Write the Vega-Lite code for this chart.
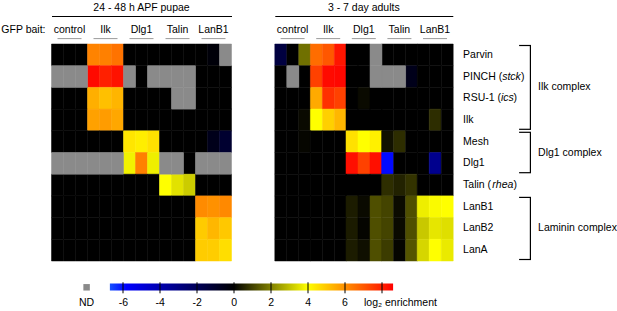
{
"$schema":"https://vega.github.io/schema/vega-lite/v6.json",
"padding":{"left":0.5,"top":3,"right":0,"bottom":0},
"config":{"view":{"stroke":null},"font":"Liberation Sans","title":{"fontSize":10.5,"fontWeight":"normal","color":"#000"},"text":{"fontSize":10.5,"color":"#000"},"axis":{"labelFontSize":10.5,"labelColor":"#000"}},
"datasets":{
"complexes":[
{"complex":"Ilk complex","first":"Parvin","last":"Ilk","mid":"RSU-1"},
{"complex":"Dlg1 complex","first":"Mesh","last":"Dlg1","mid":"Dlg1"},
{"complex":"Laminin complex","first":"LanB1","last":"LanA","mid":"LanB2"}
],
"pupae":[
{"gene":"Parvin","bait":"control","rep":1,"value":0},{"gene":"Parvin","bait":"control","rep":2,"value":0},{"gene":"Parvin","bait":"control","rep":3,"value":0},
{"gene":"Parvin","bait":"Ilk","rep":1,"value":6.25},{"gene":"Parvin","bait":"Ilk","rep":2,"value":6.3},{"gene":"Parvin","bait":"Ilk","rep":3,"value":6.55},
{"gene":"Parvin","bait":"Dlg1","rep":1,"value":0},{"gene":"Parvin","bait":"Dlg1","rep":2,"value":0},{"gene":"Parvin","bait":"Dlg1","rep":3,"value":0},
{"gene":"Parvin","bait":"Talin","rep":1,"value":0},{"gene":"Parvin","bait":"Talin","rep":2,"value":0},{"gene":"Parvin","bait":"Talin","rep":3,"value":0},
{"gene":"Parvin","bait":"LanB1","rep":1,"value":0},{"gene":"Parvin","bait":"LanB1","rep":2,"value":-0.2},{"gene":"Parvin","bait":"LanB1","rep":3,"value":null},
{"gene":"PINCH","bait":"control","rep":1,"value":null},{"gene":"PINCH","bait":"control","rep":2,"value":null},{"gene":"PINCH","bait":"control","rep":3,"value":null},
{"gene":"PINCH","bait":"Ilk","rep":1,"value":8.45},{"gene":"PINCH","bait":"Ilk","rep":2,"value":8.05},{"gene":"PINCH","bait":"Ilk","rep":3,"value":8.3},
{"gene":"PINCH","bait":"Dlg1","rep":1,"value":null},{"gene":"PINCH","bait":"Dlg1","rep":2,"value":0},{"gene":"PINCH","bait":"Dlg1","rep":3,"value":null},
{"gene":"PINCH","bait":"Talin","rep":1,"value":null},{"gene":"PINCH","bait":"Talin","rep":2,"value":null},{"gene":"PINCH","bait":"Talin","rep":3,"value":null},
{"gene":"PINCH","bait":"LanB1","rep":1,"value":0},{"gene":"PINCH","bait":"LanB1","rep":2,"value":0},{"gene":"PINCH","bait":"LanB1","rep":3,"value":0},
{"gene":"RSU-1","bait":"control","rep":1,"value":0},{"gene":"RSU-1","bait":"control","rep":2,"value":0},{"gene":"RSU-1","bait":"control","rep":3,"value":0},
{"gene":"RSU-1","bait":"Ilk","rep":1,"value":5.45},{"gene":"RSU-1","bait":"Ilk","rep":2,"value":5.15},{"gene":"RSU-1","bait":"Ilk","rep":3,"value":5.35},
{"gene":"RSU-1","bait":"Dlg1","rep":1,"value":0},{"gene":"RSU-1","bait":"Dlg1","rep":2,"value":0},{"gene":"RSU-1","bait":"Dlg1","rep":3,"value":0},
{"gene":"RSU-1","bait":"Talin","rep":1,"value":0},{"gene":"RSU-1","bait":"Talin","rep":2,"value":null},{"gene":"RSU-1","bait":"Talin","rep":3,"value":null},
{"gene":"RSU-1","bait":"LanB1","rep":1,"value":0},{"gene":"RSU-1","bait":"LanB1","rep":2,"value":0},{"gene":"RSU-1","bait":"LanB1","rep":3,"value":0},
{"gene":"Ilk","bait":"control","rep":1,"value":0},{"gene":"Ilk","bait":"control","rep":2,"value":0},{"gene":"Ilk","bait":"control","rep":3,"value":0},
{"gene":"Ilk","bait":"Ilk","rep":1,"value":5.7},{"gene":"Ilk","bait":"Ilk","rep":2,"value":5.8},{"gene":"Ilk","bait":"Ilk","rep":3,"value":5.6},
{"gene":"Ilk","bait":"Dlg1","rep":1,"value":0},{"gene":"Ilk","bait":"Dlg1","rep":2,"value":0},{"gene":"Ilk","bait":"Dlg1","rep":3,"value":0},
{"gene":"Ilk","bait":"Talin","rep":1,"value":0},{"gene":"Ilk","bait":"Talin","rep":2,"value":0},{"gene":"Ilk","bait":"Talin","rep":3,"value":0},
{"gene":"Ilk","bait":"LanB1","rep":1,"value":0},{"gene":"Ilk","bait":"LanB1","rep":2,"value":0},{"gene":"Ilk","bait":"LanB1","rep":3,"value":0},
{"gene":"Mesh","bait":"control","rep":1,"value":0},{"gene":"Mesh","bait":"control","rep":2,"value":0},{"gene":"Mesh","bait":"control","rep":3,"value":0},
{"gene":"Mesh","bait":"Ilk","rep":1,"value":0},{"gene":"Mesh","bait":"Ilk","rep":2,"value":0},{"gene":"Mesh","bait":"Ilk","rep":3,"value":0},
{"gene":"Mesh","bait":"Dlg1","rep":1,"value":4.45},{"gene":"Mesh","bait":"Dlg1","rep":2,"value":4.3},{"gene":"Mesh","bait":"Dlg1","rep":3,"value":4.55},
{"gene":"Mesh","bait":"Talin","rep":1,"value":0},{"gene":"Mesh","bait":"Talin","rep":2,"value":0},{"gene":"Mesh","bait":"Talin","rep":3,"value":0},
{"gene":"Mesh","bait":"LanB1","rep":1,"value":0},{"gene":"Mesh","bait":"LanB1","rep":2,"value":-0.6},{"gene":"Mesh","bait":"LanB1","rep":3,"value":-1.1},
{"gene":"Dlg1","bait":"control","rep":1,"value":null},{"gene":"Dlg1","bait":"control","rep":2,"value":null},{"gene":"Dlg1","bait":"control","rep":3,"value":null},
{"gene":"Dlg1","bait":"Ilk","rep":1,"value":null},{"gene":"Dlg1","bait":"Ilk","rep":2,"value":null},{"gene":"Dlg1","bait":"Ilk","rep":3,"value":null},
{"gene":"Dlg1","bait":"Dlg1","rep":1,"value":3.8},{"gene":"Dlg1","bait":"Dlg1","rep":2,"value":6.3},{"gene":"Dlg1","bait":"Dlg1","rep":3,"value":3.75},
{"gene":"Dlg1","bait":"Talin","rep":1,"value":null},{"gene":"Dlg1","bait":"Talin","rep":2,"value":null},{"gene":"Dlg1","bait":"Talin","rep":3,"value":0},
{"gene":"Dlg1","bait":"LanB1","rep":1,"value":null},{"gene":"Dlg1","bait":"LanB1","rep":2,"value":null},{"gene":"Dlg1","bait":"LanB1","rep":3,"value":null},
{"gene":"Talin","bait":"control","rep":1,"value":0},{"gene":"Talin","bait":"control","rep":2,"value":0},{"gene":"Talin","bait":"control","rep":3,"value":0},
{"gene":"Talin","bait":"Ilk","rep":1,"value":0},{"gene":"Talin","bait":"Ilk","rep":2,"value":0},{"gene":"Talin","bait":"Ilk","rep":3,"value":0},
{"gene":"Talin","bait":"Dlg1","rep":1,"value":0},{"gene":"Talin","bait":"Dlg1","rep":2,"value":0},{"gene":"Talin","bait":"Dlg1","rep":3,"value":0},
{"gene":"Talin","bait":"Talin","rep":1,"value":4.0},{"gene":"Talin","bait":"Talin","rep":2,"value":3.55},{"gene":"Talin","bait":"Talin","rep":3,"value":3.2},
{"gene":"Talin","bait":"LanB1","rep":1,"value":0},{"gene":"Talin","bait":"LanB1","rep":2,"value":0},{"gene":"Talin","bait":"LanB1","rep":3,"value":0},
{"gene":"LanB1","bait":"control","rep":1,"value":0},{"gene":"LanB1","bait":"control","rep":2,"value":0},{"gene":"LanB1","bait":"control","rep":3,"value":0},
{"gene":"LanB1","bait":"Ilk","rep":1,"value":0},{"gene":"LanB1","bait":"Ilk","rep":2,"value":0},{"gene":"LanB1","bait":"Ilk","rep":3,"value":0},
{"gene":"LanB1","bait":"Dlg1","rep":1,"value":0},{"gene":"LanB1","bait":"Dlg1","rep":2,"value":0},{"gene":"LanB1","bait":"Dlg1","rep":3,"value":0},
{"gene":"LanB1","bait":"Talin","rep":1,"value":0},{"gene":"LanB1","bait":"Talin","rep":2,"value":0},{"gene":"LanB1","bait":"Talin","rep":3,"value":0},
{"gene":"LanB1","bait":"LanB1","rep":1,"value":6.1},{"gene":"LanB1","bait":"LanB1","rep":2,"value":6.0},{"gene":"LanB1","bait":"LanB1","rep":3,"value":6.15},
{"gene":"LanB2","bait":"control","rep":1,"value":0},{"gene":"LanB2","bait":"control","rep":2,"value":0},{"gene":"LanB2","bait":"control","rep":3,"value":0},
{"gene":"LanB2","bait":"Ilk","rep":1,"value":0},{"gene":"LanB2","bait":"Ilk","rep":2,"value":0},{"gene":"LanB2","bait":"Ilk","rep":3,"value":0},
{"gene":"LanB2","bait":"Dlg1","rep":1,"value":0},{"gene":"LanB2","bait":"Dlg1","rep":2,"value":0},{"gene":"LanB2","bait":"Dlg1","rep":3,"value":0},
{"gene":"LanB2","bait":"Talin","rep":1,"value":0},{"gene":"LanB2","bait":"Talin","rep":2,"value":0},{"gene":"LanB2","bait":"Talin","rep":3,"value":0},
{"gene":"LanB2","bait":"LanB1","rep":1,"value":4.95},{"gene":"LanB2","bait":"LanB1","rep":2,"value":5.3},{"gene":"LanB2","bait":"LanB1","rep":3,"value":5.0},
{"gene":"LanA","bait":"control","rep":1,"value":0},{"gene":"LanA","bait":"control","rep":2,"value":0},{"gene":"LanA","bait":"control","rep":3,"value":0},
{"gene":"LanA","bait":"Ilk","rep":1,"value":0},{"gene":"LanA","bait":"Ilk","rep":2,"value":0},{"gene":"LanA","bait":"Ilk","rep":3,"value":0},
{"gene":"LanA","bait":"Dlg1","rep":1,"value":0},{"gene":"LanA","bait":"Dlg1","rep":2,"value":0},{"gene":"LanA","bait":"Dlg1","rep":3,"value":0},
{"gene":"LanA","bait":"Talin","rep":1,"value":0},{"gene":"LanA","bait":"Talin","rep":2,"value":0},{"gene":"LanA","bait":"Talin","rep":3,"value":0},
{"gene":"LanA","bait":"LanB1","rep":1,"value":4.93},{"gene":"LanA","bait":"LanB1","rep":2,"value":4.9},{"gene":"LanA","bait":"LanB1","rep":3,"value":4.6}
],
"adults":[
{"gene":"Parvin","bait":"control","rep":1,"value":-1.45},{"gene":"Parvin","bait":"control","rep":2,"value":0},{"gene":"Parvin","bait":"control","rep":3,"value":1.75},
{"gene":"Parvin","bait":"Ilk","rep":1,"value":6.65},{"gene":"Parvin","bait":"Ilk","rep":2,"value":7.05},{"gene":"Parvin","bait":"Ilk","rep":3,"value":8.25},
{"gene":"Parvin","bait":"Dlg1","rep":1,"value":0},{"gene":"Parvin","bait":"Dlg1","rep":2,"value":0},{"gene":"Parvin","bait":"Dlg1","rep":3,"value":null},
{"gene":"Parvin","bait":"Talin","rep":1,"value":0},{"gene":"Parvin","bait":"Talin","rep":2,"value":0},{"gene":"Parvin","bait":"Talin","rep":3,"value":0},
{"gene":"Parvin","bait":"LanB1","rep":1,"value":0},{"gene":"Parvin","bait":"LanB1","rep":2,"value":0},{"gene":"Parvin","bait":"LanB1","rep":3,"value":0},
{"gene":"PINCH","bait":"control","rep":1,"value":0},{"gene":"PINCH","bait":"control","rep":2,"value":null},{"gene":"PINCH","bait":"control","rep":3,"value":0},
{"gene":"PINCH","bait":"Ilk","rep":1,"value":7.45},{"gene":"PINCH","bait":"Ilk","rep":2,"value":8.45},{"gene":"PINCH","bait":"Ilk","rep":3,"value":8.5},
{"gene":"PINCH","bait":"Dlg1","rep":1,"value":0},{"gene":"PINCH","bait":"Dlg1","rep":2,"value":0},{"gene":"PINCH","bait":"Dlg1","rep":3,"value":null},
{"gene":"PINCH","bait":"Talin","rep":1,"value":null},{"gene":"PINCH","bait":"Talin","rep":2,"value":null},{"gene":"PINCH","bait":"Talin","rep":3,"value":-0.6},
{"gene":"PINCH","bait":"LanB1","rep":1,"value":0},{"gene":"PINCH","bait":"LanB1","rep":2,"value":0},{"gene":"PINCH","bait":"LanB1","rep":3,"value":0},
{"gene":"RSU-1","bait":"control","rep":1,"value":0},{"gene":"RSU-1","bait":"control","rep":2,"value":0},{"gene":"RSU-1","bait":"control","rep":3,"value":0},
{"gene":"RSU-1","bait":"Ilk","rep":1,"value":5.55},{"gene":"RSU-1","bait":"Ilk","rep":2,"value":7.75},{"gene":"RSU-1","bait":"Ilk","rep":3,"value":7.45},
{"gene":"RSU-1","bait":"Dlg1","rep":1,"value":0},{"gene":"RSU-1","bait":"Dlg1","rep":2,"value":0.15},{"gene":"RSU-1","bait":"Dlg1","rep":3,"value":0},
{"gene":"RSU-1","bait":"Talin","rep":1,"value":0},{"gene":"RSU-1","bait":"Talin","rep":2,"value":0},{"gene":"RSU-1","bait":"Talin","rep":3,"value":0},
{"gene":"RSU-1","bait":"LanB1","rep":1,"value":0},{"gene":"RSU-1","bait":"LanB1","rep":2,"value":0},{"gene":"RSU-1","bait":"LanB1","rep":3,"value":0},
{"gene":"Ilk","bait":"control","rep":1,"value":0},{"gene":"Ilk","bait":"control","rep":2,"value":0},{"gene":"Ilk","bait":"control","rep":3,"value":0.15},
{"gene":"Ilk","bait":"Ilk","rep":1,"value":4.0},{"gene":"Ilk","bait":"Ilk","rep":2,"value":4.85},{"gene":"Ilk","bait":"Ilk","rep":3,"value":5.3},
{"gene":"Ilk","bait":"Dlg1","rep":1,"value":0},{"gene":"Ilk","bait":"Dlg1","rep":2,"value":0},{"gene":"Ilk","bait":"Dlg1","rep":3,"value":0},
{"gene":"Ilk","bait":"Talin","rep":1,"value":0},{"gene":"Ilk","bait":"Talin","rep":2,"value":0},{"gene":"Ilk","bait":"Talin","rep":3,"value":0},
{"gene":"Ilk","bait":"LanB1","rep":1,"value":0},{"gene":"Ilk","bait":"LanB1","rep":2,"value":0.7},{"gene":"Ilk","bait":"LanB1","rep":3,"value":0},
{"gene":"Mesh","bait":"control","rep":1,"value":0},{"gene":"Mesh","bait":"control","rep":2,"value":0},{"gene":"Mesh","bait":"control","rep":3,"value":0.1},
{"gene":"Mesh","bait":"Ilk","rep":1,"value":0},{"gene":"Mesh","bait":"Ilk","rep":2,"value":0},{"gene":"Mesh","bait":"Ilk","rep":3,"value":0},
{"gene":"Mesh","bait":"Dlg1","rep":1,"value":4.55},{"gene":"Mesh","bait":"Dlg1","rep":2,"value":4.0},{"gene":"Mesh","bait":"Dlg1","rep":3,"value":4.27},
{"gene":"Mesh","bait":"Talin","rep":1,"value":0.27},{"gene":"Mesh","bait":"Talin","rep":2,"value":0.7},{"gene":"Mesh","bait":"Talin","rep":3,"value":0},
{"gene":"Mesh","bait":"LanB1","rep":1,"value":0},{"gene":"Mesh","bait":"LanB1","rep":2,"value":0},{"gene":"Mesh","bait":"LanB1","rep":3,"value":0},
{"gene":"Dlg1","bait":"control","rep":1,"value":0},{"gene":"Dlg1","bait":"control","rep":2,"value":0},{"gene":"Dlg1","bait":"control","rep":3,"value":0},
{"gene":"Dlg1","bait":"Ilk","rep":1,"value":0},{"gene":"Dlg1","bait":"Ilk","rep":2,"value":0},{"gene":"Dlg1","bait":"Ilk","rep":3,"value":0},
{"gene":"Dlg1","bait":"Dlg1","rep":1,"value":8.35},{"gene":"Dlg1","bait":"Dlg1","rep":2,"value":7.45},{"gene":"Dlg1","bait":"Dlg1","rep":3,"value":8.35},
{"gene":"Dlg1","bait":"Talin","rep":1,"value":-5.9},{"gene":"Dlg1","bait":"Talin","rep":2,"value":0},{"gene":"Dlg1","bait":"Talin","rep":3,"value":0},
{"gene":"Dlg1","bait":"LanB1","rep":1,"value":0},{"gene":"Dlg1","bait":"LanB1","rep":2,"value":-3.2},{"gene":"Dlg1","bait":"LanB1","rep":3,"value":0},
{"gene":"Talin","bait":"control","rep":1,"value":0},{"gene":"Talin","bait":"control","rep":2,"value":0},{"gene":"Talin","bait":"control","rep":3,"value":0},
{"gene":"Talin","bait":"Ilk","rep":1,"value":0},{"gene":"Talin","bait":"Ilk","rep":2,"value":0},{"gene":"Talin","bait":"Ilk","rep":3,"value":0},
{"gene":"Talin","bait":"Dlg1","rep":1,"value":0},{"gene":"Talin","bait":"Dlg1","rep":2,"value":0},{"gene":"Talin","bait":"Dlg1","rep":3,"value":0},
{"gene":"Talin","bait":"Talin","rep":1,"value":0.72},{"gene":"Talin","bait":"Talin","rep":2,"value":0.53},{"gene":"Talin","bait":"Talin","rep":3,"value":0.8},
{"gene":"Talin","bait":"LanB1","rep":1,"value":0},{"gene":"Talin","bait":"LanB1","rep":2,"value":0},{"gene":"Talin","bait":"LanB1","rep":3,"value":0},
{"gene":"LanB1","bait":"control","rep":1,"value":0},{"gene":"LanB1","bait":"control","rep":2,"value":0},{"gene":"LanB1","bait":"control","rep":3,"value":0},
{"gene":"LanB1","bait":"Ilk","rep":1,"value":0},{"gene":"LanB1","bait":"Ilk","rep":2,"value":0},{"gene":"LanB1","bait":"Ilk","rep":3,"value":0},
{"gene":"LanB1","bait":"Dlg1","rep":1,"value":0.44},{"gene":"LanB1","bait":"Dlg1","rep":2,"value":0.16},{"gene":"LanB1","bait":"Dlg1","rep":3,"value":1.24},
{"gene":"LanB1","bait":"Talin","rep":1,"value":1.07},{"gene":"LanB1","bait":"Talin","rep":2,"value":0.17},{"gene":"LanB1","bait":"Talin","rep":3,"value":1.24},
{"gene":"LanB1","bait":"LanB1","rep":1,"value":3.73},{"gene":"LanB1","bait":"LanB1","rep":2,"value":3.92},{"gene":"LanB1","bait":"LanB1","rep":3,"value":4.0},
{"gene":"LanB2","bait":"control","rep":1,"value":0},{"gene":"LanB2","bait":"control","rep":2,"value":0},{"gene":"LanB2","bait":"control","rep":3,"value":0},
{"gene":"LanB2","bait":"Ilk","rep":1,"value":0},{"gene":"LanB2","bait":"Ilk","rep":2,"value":0},{"gene":"LanB2","bait":"Ilk","rep":3,"value":0},
{"gene":"LanB2","bait":"Dlg1","rep":1,"value":0.42},{"gene":"LanB2","bait":"Dlg1","rep":2,"value":0.08},{"gene":"LanB2","bait":"Dlg1","rep":3,"value":1.24},
{"gene":"LanB2","bait":"Talin","rep":1,"value":1.07},{"gene":"LanB2","bait":"Talin","rep":2,"value":0.16},{"gene":"LanB2","bait":"Talin","rep":3,"value":1.24},
{"gene":"LanB2","bait":"LanB1","rep":1,"value":3.14},{"gene":"LanB2","bait":"LanB1","rep":2,"value":3.6},{"gene":"LanB2","bait":"LanB1","rep":3,"value":3.5},
{"gene":"LanA","bait":"control","rep":1,"value":0},{"gene":"LanA","bait":"control","rep":2,"value":0},{"gene":"LanA","bait":"control","rep":3,"value":0},
{"gene":"LanA","bait":"Ilk","rep":1,"value":0},{"gene":"LanA","bait":"Ilk","rep":2,"value":0},{"gene":"LanA","bait":"Ilk","rep":3,"value":0},
{"gene":"LanA","bait":"Dlg1","rep":1,"value":0.44},{"gene":"LanA","bait":"Dlg1","rep":2,"value":0.24},{"gene":"LanA","bait":"Dlg1","rep":3,"value":1.24},
{"gene":"LanA","bait":"Talin","rep":1,"value":0.94},{"gene":"LanA","bait":"Talin","rep":2,"value":0.08},{"gene":"LanA","bait":"Talin","rep":3,"value":1.33},
{"gene":"LanA","bait":"LanB1","rep":1,"value":3.36},{"gene":"LanA","bait":"LanB1","rep":2,"value":4.0},{"gene":"LanA","bait":"LanB1","rep":3,"value":3.67}
]
},
"spacing":18.8,
"vconcat":[
{"spacing":41.3,"hconcat":[
 {"bounds":"flush","spacing":0,"vconcat":[
  {"width":180,"height":27.6,
   "data":{"name":"pupae"},
   "transform":[{"filter":"datum.gene === 'Parvin' && datum.rep === 1"}],
   "layer":[
    {"mark":{"type":"text","baseline":"alphabetic"},
     "encoding":{
      "x":{"field":"bait","type":"nominal","scale":{"domain":["control","Ilk","Dlg1","Talin","LanB1"],"paddingInner":0,"paddingOuter":0},"axis":{"orient":"top","domain":true,"domainColor":"#000","domainWidth":1,"labels":false,"ticks":false,"grid":false,"title":null}},
      "y":{"datum":0.384,"type":"quantitative","scale":{"domain":[0,1]},"axis":null},
      "text":{"field":"bait"}}},
    {"mark":{"type":"tick","orient":"horizontal","size":24,"thickness":1,"color":"#9a9a9a","opacity":1},
     "encoding":{
      "x":{"field":"bait","type":"nominal","scale":{"domain":["control","Ilk","Dlg1","Talin","LanB1"],"paddingInner":0,"paddingOuter":0},"axis":{"orient":"top","domain":true,"domainColor":"#000","domainWidth":1,"labels":false,"ticks":false,"grid":false,"title":null}},
      "y":{"datum":0.181,"type":"quantitative","scale":{"domain":[0,1]},"axis":null}}},
    {"data":{"values":[{"label":"GFP bait:"}]},
     "mark":{"type":"text","align":"right","baseline":"alphabetic","dx":-6},
     "encoding":{
      "x":{"value":0},
      "y":{"datum":0.384,"type":"quantitative","scale":{"domain":[0,1]},"axis":null},
      "text":{"field":"label"}}},
    {"data":{"values":[{"label":"24 - 48 h APF pupae"}]},
     "mark":{"type":"text","align":"center","baseline":"alphabetic"},
     "encoding":{
      "y":{"datum":1.1703,"type":"quantitative","scale":{"domain":[0,1]},"axis":null},
      "text":{"field":"label"}}}
   ]},
  {"width":180,"height":217,
   "data":{"name":"pupae"},
   "layer":[
    {"transform":[{"filter":"datum.value !== null"}],
     "mark":{"type":"rect","strokeWidth":0.5},
     "encoding":{
      "x":{"field":"bait","type":"nominal","scale":{"domain":["control","Ilk","Dlg1","Talin","LanB1"],"paddingInner":0,"paddingOuter":0},"axis":null},
      "xOffset":{"field":"rep","type":"ordinal","scale":{"paddingInner":0,"paddingOuter":0}},
      "y":{"field":"gene","type":"nominal","scale":{"type":"band","domain":["Parvin","PINCH","RSU-1","Ilk","Mesh","Dlg1","Talin","LanB1","LanB2","LanA"],"paddingInner":0,"paddingOuter":0},"axis":null},
      "color":{"field":"value","type":"quantitative","scale":{"domain":[-6.7,-5.8,0,4,8.63],"range":["#1550ff","#0000ff","#000000","#ffff00","#ff0000"],"interpolate":"rgb"},"legend":null},
      "stroke":{"field":"value","type":"quantitative","scale":{"domain":[-6.7,-5.8,0,4,8.63],"range":["#1550ff","#0000ff","#000000","#ffff00","#ff0000"],"interpolate":"rgb"},"legend":null}}},
    {"transform":[{"filter":"datum.value === null"}],
     "mark":{"type":"rect","fill":"#8a8a8a","stroke":"#8a8a8a","strokeWidth":0.5},
     "encoding":{
      "x":{"field":"bait","type":"nominal","scale":{"domain":["control","Ilk","Dlg1","Talin","LanB1"],"paddingInner":0,"paddingOuter":0},"axis":null},
      "xOffset":{"field":"rep","type":"ordinal","scale":{"paddingInner":0,"paddingOuter":0}},
      "y":{"field":"gene","type":"nominal","scale":{"type":"band","domain":["Parvin","PINCH","RSU-1","Ilk","Mesh","Dlg1","Talin","LanB1","LanB2","LanA"],"paddingInner":0,"paddingOuter":0},"axis":null}}}
   ]}
 ]},
 {"bounds":"flush","spacing":0,"vconcat":[
  {"width":178,"height":27.6,
   "data":{"name":"adults"},
   "transform":[{"filter":"datum.gene === 'Parvin' && datum.rep === 1"}],
   "layer":[
    {"mark":{"type":"text","baseline":"alphabetic"},
     "encoding":{
      "x":{"field":"bait","type":"nominal","scale":{"domain":["control","Ilk","Dlg1","Talin","LanB1"],"paddingInner":0,"paddingOuter":0},"axis":{"orient":"top","domain":true,"domainColor":"#000","domainWidth":1,"labels":false,"ticks":false,"grid":false,"title":null}},
      "y":{"datum":0.384,"type":"quantitative","scale":{"domain":[0,1]},"axis":null},
      "text":{"field":"bait"}}},
    {"mark":{"type":"tick","orient":"horizontal","size":24,"thickness":1,"color":"#9a9a9a","opacity":1},
     "encoding":{
      "x":{"field":"bait","type":"nominal","scale":{"domain":["control","Ilk","Dlg1","Talin","LanB1"],"paddingInner":0,"paddingOuter":0},"axis":{"orient":"top","domain":true,"domainColor":"#000","domainWidth":1,"labels":false,"ticks":false,"grid":false,"title":null}},
      "y":{"datum":0.181,"type":"quantitative","scale":{"domain":[0,1]},"axis":null}}},
    {"data":{"values":[{"label":"3 - 7 day adults"}]},
     "mark":{"type":"text","align":"center","baseline":"alphabetic"},
     "encoding":{
      "y":{"datum":1.1703,"type":"quantitative","scale":{"domain":[0,1]},"axis":null},
      "text":{"field":"label"}}}
   ]},
  {"width":178,"height":217,
   "data":{"name":"adults"},
   "layer":[
    {"transform":[{"filter":"datum.value !== null"}],
     "mark":{"type":"rect","strokeWidth":0.5},
     "encoding":{
      "x":{"field":"bait","type":"nominal","scale":{"domain":["control","Ilk","Dlg1","Talin","LanB1"],"paddingInner":0,"paddingOuter":0},"axis":null},
      "xOffset":{"field":"rep","type":"ordinal","scale":{"paddingInner":0,"paddingOuter":0}},
      "y":{"field":"gene","type":"nominal","scale":{"type":"band","domain":["Parvin","PINCH","RSU-1","Ilk","Mesh","Dlg1","Talin","LanB1","LanB2","LanA"],"paddingInner":0,"paddingOuter":0},"axis":null},
      "color":{"field":"value","type":"quantitative","scale":{"domain":[-6.7,-5.8,0,4,8.63],"range":["#1550ff","#0000ff","#000000","#ffff00","#ff0000"],"interpolate":"rgb"},"legend":null},
      "stroke":{"field":"value","type":"quantitative","scale":{"domain":[-6.7,-5.8,0,4,8.63],"range":["#1550ff","#0000ff","#000000","#ffff00","#ff0000"],"interpolate":"rgb"},"legend":null}}},
    {"transform":[{"filter":"datum.value === null"}],
     "mark":{"type":"rect","fill":"#8a8a8a","stroke":"#8a8a8a","strokeWidth":0.5},
     "encoding":{
      "x":{"field":"bait","type":"nominal","scale":{"domain":["control","Ilk","Dlg1","Talin","LanB1"],"paddingInner":0,"paddingOuter":0},"axis":null},
      "xOffset":{"field":"rep","type":"ordinal","scale":{"paddingInner":0,"paddingOuter":0}},
      "y":{"field":"gene","type":"nominal","scale":{"type":"band","domain":["Parvin","PINCH","RSU-1","Ilk","Mesh","Dlg1","Talin","LanB1","LanB2","LanA"],"paddingInner":0,"paddingOuter":0},"axis":null}}},
    {"transform":[{"filter":"datum.bait === 'control' && datum.rep === 1"}],
     "mark":{"type":"text","align":"left","baseline":"middle","dx":10.3},
     "encoding":{
      "x":{"value":"width"},
      "y":{"field":"gene","type":"nominal","scale":{"type":"band","domain":["Parvin","PINCH","RSU-1","Ilk","Mesh","Dlg1","Talin","LanB1","LanB2","LanA"],"paddingInner":0,"paddingOuter":0},"axis":null},
      "text":{"condition":[{"test":"datum.gene === 'PINCH'","value":"PINCH ("},{"test":"datum.gene === 'RSU-1'","value":"RSU-1 ("},{"test":"datum.gene === 'Talin'","value":"Talin ("}],"field":"gene"}}},
    {"transform":[{"filter":"datum.bait === 'control' && datum.rep === 1 && datum.gene === 'PINCH'"}],
     "mark":{"type":"text","align":"left","baseline":"middle","dx":49.4,"fontStyle":"italic"},
     "encoding":{"x":{"value":"width"},
      "y":{"field":"gene","type":"nominal","scale":{"type":"band","domain":["Parvin","PINCH","RSU-1","Ilk","Mesh","Dlg1","Talin","LanB1","LanB2","LanA"],"paddingInner":0,"paddingOuter":0},"axis":null},
      "text":{"value":"stck"}}},
    {"transform":[{"filter":"datum.bait === 'control' && datum.rep === 1 && datum.gene === 'RSU-1'"}],
     "mark":{"type":"text","align":"left","baseline":"middle","dx":48.2,"fontStyle":"italic"},
     "encoding":{"x":{"value":"width"},
      "y":{"field":"gene","type":"nominal","scale":{"type":"band","domain":["Parvin","PINCH","RSU-1","Ilk","Mesh","Dlg1","Talin","LanB1","LanB2","LanA"],"paddingInner":0,"paddingOuter":0},"axis":null},
      "text":{"value":"ics"}}},
    {"transform":[{"filter":"datum.bait === 'control' && datum.rep === 1 && datum.gene === 'Talin'"}],
     "mark":{"type":"text","align":"left","baseline":"middle","dx":39.5,"fontStyle":"italic"},
     "encoding":{"x":{"value":"width"},
      "y":{"field":"gene","type":"nominal","scale":{"type":"band","domain":["Parvin","PINCH","RSU-1","Ilk","Mesh","Dlg1","Talin","LanB1","LanB2","LanA"],"paddingInner":0,"paddingOuter":0},"axis":null},
      "text":{"value":"rhea"}}},
    {"transform":[{"filter":"datum.bait === 'control' && datum.rep === 1 && datum.gene === 'PINCH'"}],
     "mark":{"type":"text","align":"left","baseline":"middle","dx":68.1},
     "encoding":{"x":{"value":"width"},
      "y":{"field":"gene","type":"nominal","scale":{"type":"band","domain":["Parvin","PINCH","RSU-1","Ilk","Mesh","Dlg1","Talin","LanB1","LanB2","LanA"],"paddingInner":0,"paddingOuter":0},"axis":null},
      "text":{"value":")"}}},
    {"transform":[{"filter":"datum.bait === 'control' && datum.rep === 1 && (datum.gene === 'RSU-1' || datum.gene === 'Talin')"}],
     "mark":{"type":"text","align":"left","baseline":"middle","dx":60.8},
     "encoding":{"x":{"value":"width"},
      "y":{"field":"gene","type":"nominal","scale":{"type":"band","domain":["Parvin","PINCH","RSU-1","Ilk","Mesh","Dlg1","Talin","LanB1","LanB2","LanA"],"paddingInner":0,"paddingOuter":0},"axis":null},
      "text":{"value":")"}}},
    {"data":{"name":"complexes"},
     "mark":{"type":"rule","color":"#000","strokeWidth":1.2,"xOffset":77.6,"yOffset":1.5,"y2Offset":-1.5},
     "encoding":{"x":{"value":"width"},
      "y":{"field":"first","type":"nominal","bandPosition":0,"scale":{"type":"band","domain":["Parvin","PINCH","RSU-1","Ilk","Mesh","Dlg1","Talin","LanB1","LanB2","LanA"],"paddingInner":0,"paddingOuter":0},"axis":null},
      "y2":{"field":"last","bandPosition":1}}},
    {"data":{"name":"complexes"},
     "mark":{"type":"rule","color":"#000","strokeWidth":1.2,"xOffset":66.3,"x2Offset":78.2,"yOffset":1.5},
     "encoding":{"x":{"value":"width"},"x2":{"value":"width"},
      "y":{"field":"first","type":"nominal","bandPosition":0,"scale":{"type":"band","domain":["Parvin","PINCH","RSU-1","Ilk","Mesh","Dlg1","Talin","LanB1","LanB2","LanA"],"paddingInner":0,"paddingOuter":0},"axis":null}}},
    {"data":{"name":"complexes"},
     "mark":{"type":"rule","color":"#000","strokeWidth":1.2,"xOffset":66.3,"x2Offset":78.2,"yOffset":-1.5},
     "encoding":{"x":{"value":"width"},"x2":{"value":"width"},
      "y":{"field":"last","type":"nominal","bandPosition":1,"scale":{"type":"band","domain":["Parvin","PINCH","RSU-1","Ilk","Mesh","Dlg1","Talin","LanB1","LanB2","LanA"],"paddingInner":0,"paddingOuter":0},"axis":null}}},
    {"data":{"name":"complexes"},
     "transform":[{"filter":"datum.complex !== 'Laminin complex'"}],
     "mark":{"type":"text","align":"left","baseline":"middle","dx":85.3},
     "encoding":{"x":{"value":"width"},
      "y":{"field":"mid","type":"nominal","bandPosition":0,"scale":{"type":"band","domain":["Parvin","PINCH","RSU-1","Ilk","Mesh","Dlg1","Talin","LanB1","LanB2","LanA"],"paddingInner":0,"paddingOuter":0},"axis":null},
      "text":{"field":"complex"}}},
    {"data":{"name":"complexes"},
     "transform":[{"filter":"datum.complex === 'Laminin complex'"}],
     "mark":{"type":"text","align":"left","baseline":"middle","dx":85.3},
     "encoding":{"x":{"value":"width"},
      "y":{"field":"mid","type":"nominal","bandPosition":0.5,"scale":{"type":"band","domain":["Parvin","PINCH","RSU-1","Ilk","Mesh","Dlg1","Talin","LanB1","LanB2","LanA"],"paddingInner":0,"paddingOuter":0},"axis":null},
      "text":{"field":"complex"}}}
   ]}
 ]}
]},
{"width":341.6,"height":11,
 "data":{"values":[{"label":"ND"}]},
 "layer":[
  {"mark":{"type":"rect","fill":{"gradient":"linear","x1":0,"x2":1,"y1":0,"y2":0,"stops":[{"offset":0,"color":"#1550ff"},{"offset":0.0587,"color":"#0000ff"},{"offset":0.437,"color":"#000000"},{"offset":0.698,"color":"#ffff00"},{"offset":1,"color":"#ff0000"}]}},
   "encoding":{
    "x":{"datum":-6.7,"type":"quantitative","scale":{"domain":[-9.86,8.63],"nice":false,"zero":false},
     "axis":{"orient":"bottom","offset":-11,"values":[-6,-4,-2,0,2,4,6,8],"domain":false,"grid":false,"ticks":true,"tickSize":11,"tickColor":"#000","tickWidth":1,"labelExpr":"datum.value === 8 ? 'log₂ enrichment' : '' + datum.value","labelAlign":{"condition":{"test":"datum.value === 8","value":"left"},"value":"center"},"labelOffset":{"condition":{"test":"datum.value === 8","value":-18},"value":0},"labelBaseline":"alphabetic","labelPadding":12.8,"labelFlush":false,"labelOverlap":false,"labelBound":false,"title":null,"zindex":1}},
    "x2":{"datum":8.63},
    "y":{"datum":0.836,"type":"quantitative","scale":{"domain":[0,1]},"axis":null},
    "y2":{"datum":0.2}}},
  {"mark":{"type":"point","shape":"square","filled":true,"size":42,"color":"#8a8a8a","opacity":1},
   "encoding":{
    "x":{"datum":-7.96,"type":"quantitative","scale":{"domain":[-9.86,8.63],"nice":false,"zero":false},
     "axis":{"orient":"bottom","offset":-11,"values":[-6,-4,-2,0,2,4,6,8],"domain":false,"grid":false,"ticks":true,"tickSize":11,"tickColor":"#000","tickWidth":1,"labelExpr":"datum.value === 8 ? 'log₂ enrichment' : '' + datum.value","labelAlign":{"condition":{"test":"datum.value === 8","value":"left"},"value":"center"},"labelOffset":{"condition":{"test":"datum.value === 8","value":-18},"value":0},"labelBaseline":"alphabetic","labelPadding":12.8,"labelFlush":false,"labelOverlap":false,"labelBound":false,"title":null,"zindex":1}},
    "y":{"datum":0.5,"type":"quantitative","scale":{"domain":[0,1]},"axis":null}}},
  {"mark":{"type":"text","baseline":"alphabetic"},
   "encoding":{
    "x":{"datum":-7.96,"type":"quantitative","scale":{"domain":[-9.86,8.63],"nice":false,"zero":false},
     "axis":{"orient":"bottom","offset":-11,"values":[-6,-4,-2,0,2,4,6,8],"domain":false,"grid":false,"ticks":true,"tickSize":11,"tickColor":"#000","tickWidth":1,"labelExpr":"datum.value === 8 ? 'log₂ enrichment' : '' + datum.value","labelAlign":{"condition":{"test":"datum.value === 8","value":"left"},"value":"center"},"labelOffset":{"condition":{"test":"datum.value === 8","value":-18},"value":0},"labelBaseline":"alphabetic","labelPadding":12.8,"labelFlush":false,"labelOverlap":false,"labelBound":false,"title":null,"zindex":1}},
    "y":{"datum":-1.164,"type":"quantitative","scale":{"domain":[0,1]},"axis":null},
    "text":{"field":"label"}}}
 ]}
]
}
